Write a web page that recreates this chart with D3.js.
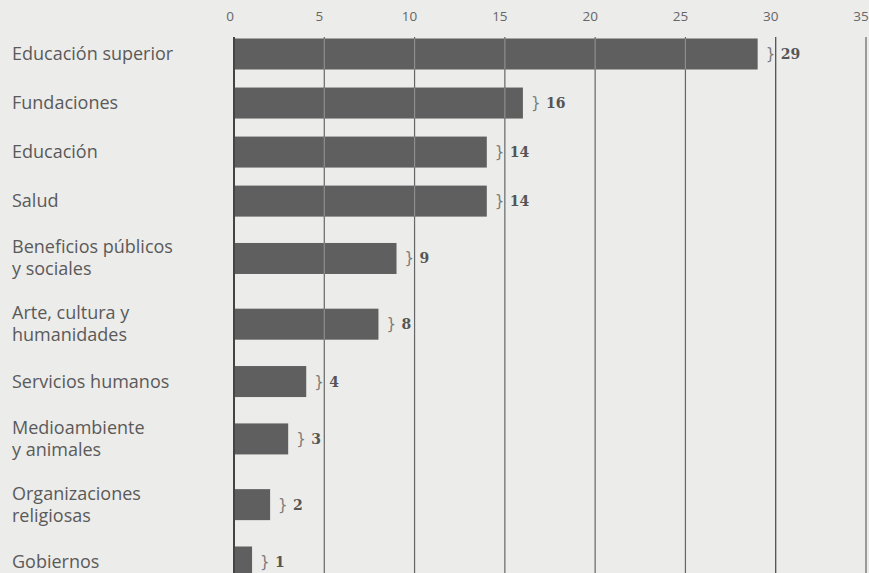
<!DOCTYPE html>
<html>
<head>
<meta charset="utf-8">
<script src="https://d3js.org/d3.v7.min.js"></script>
<style>
  html, body { margin: 0; padding: 0; background: #ececea; }
  svg { display: block; }
</style>
</head>
<body>
<div id="chart"></div>
<script>
// data
var categories = [
  'Educación superior',
  'Fundaciones',
  'Educación',
  'Salud',
  'Beneficios públicos\ny sociales',
  'Arte, cultura y\nhumanidades',
  'Servicios humanos',
  'Medioambiente\ny animales',
  'Organizaciones\nreligiosas',
  'Gobiernos'
];
var values = [29, 16, 14, 14, 9, 8, 4, 3, 2, 1];
var tickValues = [0, 5, 10, 15, 20, 25, 30, 35];

(function () {
  'use strict';

  var width = 869, height = 573;
  var barH = 31;

  var svg = d3.select('#chart').append('svg')
    .attr('width', width)
    .attr('height', height);

  svg.append('rect')
    .attr('width', width).attr('height', height)
    .attr('fill', '#ececea');

  var x = d3.scaleLinear().domain([0, 35]).range([234, 866]);

  // rows with two-line labels take a bit more room than single ones
  var rows = categories.map(function (c, i) {
    return { label: c, lines: c.split('\n'), value: values[i] };
  });
  var pos = 0;
  rows.forEach(function (r, i) {
    var half = r.lines.length > 1 ? 1.34 : 1;
    if (i > 0) pos += half;
    r.unit = pos;
    pos += half;
  });
  var y = d3.scaleLinear()
    .domain([rows[0].unit, rows[rows.length - 1].unit])
    .range([54, 562]);

  // grid lines behind the bars
  svg.append('g').selectAll('line')
    .data(tickValues)
    .join('line')
    .attr('x1', function (d) { return x(d); })
    .attr('x2', function (d) { return x(d); })
    .attr('y1', 37)
    .attr('y2', height)
    .attr('stroke', function (d) { return d === 0 || d === 30 ? '#444' : '#666'; })
    .attr('stroke-width', function (d) { return d === 0 ? 2 : 1.2; });

  // tick labels on top
  svg.append('g').selectAll('text')
    .data(tickValues)
    .join('text')
    .attr('x', function (d) { return x(d); })
    .attr('dx', function (d) { return d === 0 ? -4 : -5; })
    .attr('y', 21)
    .attr('text-anchor', 'middle')
    .attr('font-family', '"Open Sans", sans-serif')
    .attr('font-size', 13.5)
    .attr('fill', '#666')
    .text(function (d) { return d; });

  var bars = svg.append('g');
  bars.selectAll('rect')
    .data(rows)
    .join('rect')
    .attr('x', x(0) + 1)
    .attr('y', function (d) { return y(d.unit) - barH / 2; })
    .attr('width', function (d) { return x(d.value) - x(0) - 1; })
    .attr('height', barH)
    .attr('fill', '#5f5f5f');

  // the grid shows through the bars as light lines
  rows.forEach(function (r) {
    var inner = tickValues.filter(function (t) { return t > 0 && t < r.value; });
    bars.append('g').selectAll('line')
      .data(inner)
      .join('line')
      .attr('x1', function (d) { return x(d); })
      .attr('x2', function (d) { return x(d); })
      .attr('y1', y(r.unit) - barH / 2)
      .attr('y2', y(r.unit) + barH / 2)
      .attr('stroke', '#8e8e8e')
      .attr('stroke-width', 1.2);
  });

  // value labels: brace + bold number
  var vals = svg.append('g').selectAll('g')
    .data(rows)
    .join('g')
    .attr('transform', function (d) {
      return 'translate(' + (x(d.value) + 8) + ',' + y(d.unit) + ')';
    });
  vals.append('text')
    .attr('y', 5)
    .attr('font-family', '"DejaVu Sans", sans-serif')
    .attr('font-size', 15)
    .attr('fill', '#7a7a7a')
    .text('}');
  vals.append('text')
    .attr('x', 15)
    .attr('y', 5)
    .attr('font-family', '"DejaVu Serif", serif')
    .attr('font-weight', 'bold')
    .attr('font-size', 14)
    .attr('fill', '#555')
    .text(function (d) { return d.value; });

  // category labels
  var lineH = 22;
  var labels = svg.append('g').selectAll('text')
    .data(rows)
    .join('text')
    .attr('x', 12)
    .attr('y', function (d) {
      return y(d.unit) + 6 - (d.lines.length - 1) * lineH / 2;
    })
    .attr('font-family', '"Open Sans", sans-serif')
    .attr('font-size', 18)
    .attr('fill', '#5a5a5a');
  labels.selectAll('tspan')
    .data(function (d) { return d.lines; })
    .join('tspan')
    .attr('x', 12)
    .attr('dy', function (d, i) { return i === 0 ? 0 : lineH; })
    .text(function (d) { return d; });
})();
</script>
</body>
</html>
